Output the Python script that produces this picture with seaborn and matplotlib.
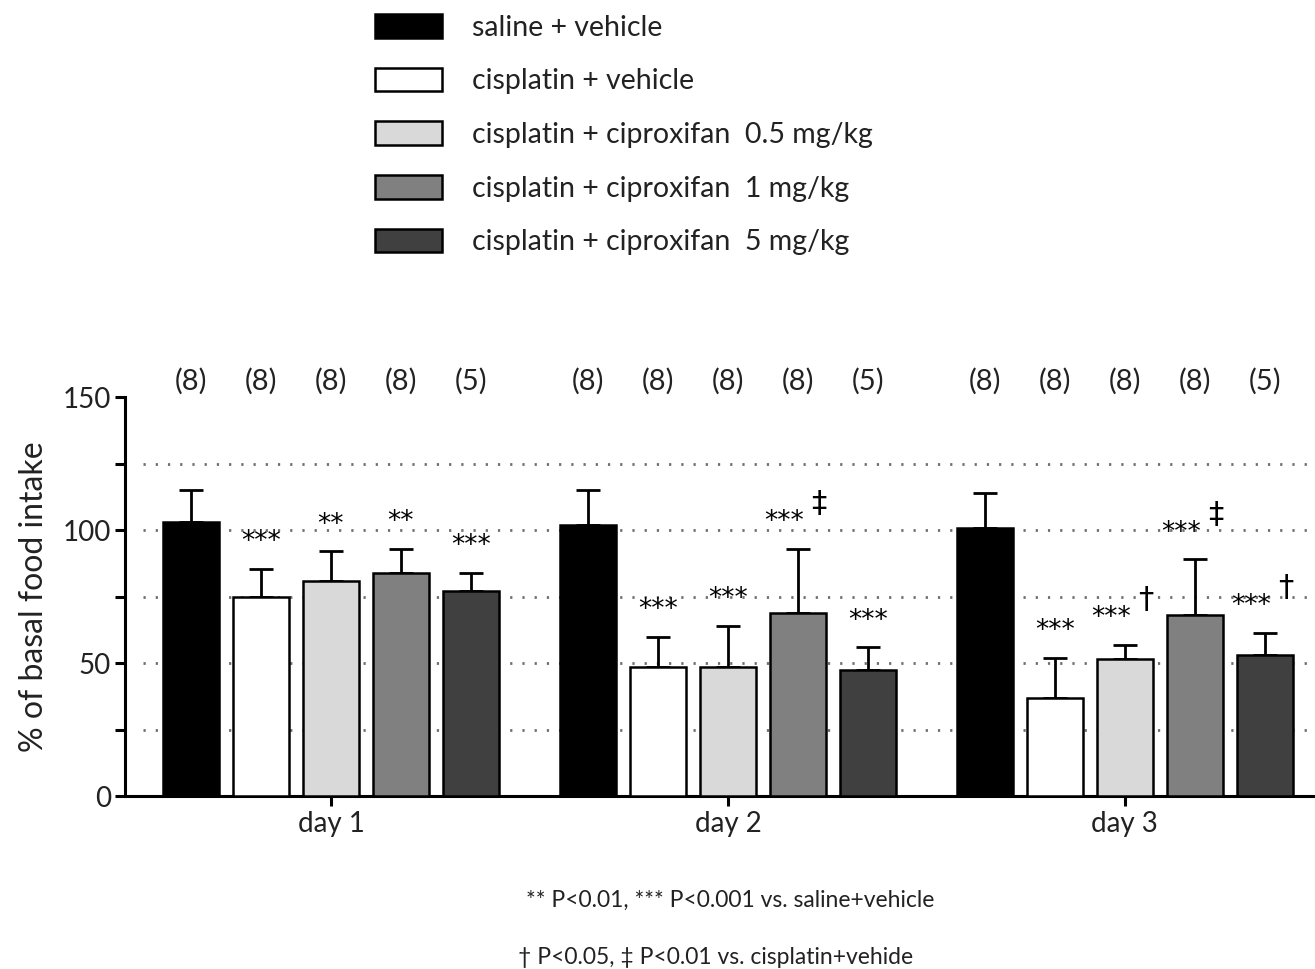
import pandas as pd
import seaborn as sns
import matplotlib.pyplot as plt
from matplotlib.ticker import MultipleLocator

# Data
days = ['day 1', 'day 2', 'day 3']
groups = ['saline + vehicle',
          'cisplatin + vehicle',
          'cisplatin + ciproxifan  0.5 mg/kg',
          'cisplatin + ciproxifan  1 mg/kg',
          'cisplatin + ciproxifan  5 mg/kg']
colors = ['#000000', '#ffffff', '#d9d9d9', '#808080', '#404040']
n_animals = ['(8)', '(8)', '(8)', '(8)', '(5)']

mean_day1 = [103, 75, 81, 84, 77]
mean_day2 = [102, 48.5, 48.5, 69, 47.5]
mean_day3 = [101, 37, 51.5, 68, 53]
sem_day1 = [12, 10.5, 11, 9, 7]
sem_day2 = [13, 11.5, 15.5, 24, 8.5]
sem_day3 = [13, 15, 5.5, 21, 8.5]

stars_day1 = ['', '***', '**', '**', '***']
stars_day2 = ['', '***', '***', '***', '***']
stars_day3 = ['', '***', '***', '***', '***']
dagger_day1 = ['', '', '', '', '']
dagger_day2 = ['', '', '', '\u2021', '']
dagger_day3 = ['', '', '\u2020', '\u2021', '\u2020']

means = [mean_day1, mean_day2, mean_day3]
sems = [sem_day1, sem_day2, sem_day3]
stars = [stars_day1, stars_day2, stars_day3]
daggers = [dagger_day1, dagger_day2, dagger_day3]

rows = []
for d, day in enumerate(days):
    for g, grp in enumerate(groups):
        rows.append({'day': day, 'group': grp, 'value': means[d][g]})
df = pd.DataFrame(rows)

txt = '#222222'
sns.set_style('ticks')
plt.rcParams['font.family'] = ['Lato', 'DejaVu Sans']
plt.rcParams['font.size'] = 20
plt.rcParams['text.color'] = txt
plt.rcParams['axes.labelcolor'] = txt

fig = plt.figure(figsize=(13.15, 9.69), dpi=100)
ax = fig.add_axes([0.095, 0.1785, 0.905, 0.4115])

sns.barplot(data=df, x='day', y='value', hue='group', palette=colors,
            width=0.88, gap=0.2, edgecolor='black', linewidth=1.8,
            errorbar=None, saturation=1, ax=ax, zorder=3)

handles, labels = ax.get_legend_handles_labels()
ax.get_legend().remove()

bar_groups = list(ax.containers)
for g, cont in enumerate(bar_groups):
    for d, bar in enumerate(cont):
        x = bar.get_x() + bar.get_width() / 2
        top = bar.get_height()
        err = sems[d][g]
        ax.errorbar(x, top, yerr=[[0], [err]], fmt='none', ecolor='black',
                    elinewidth=2, capsize=8.5, capthick=2, zorder=2)
        ax.text(x, 156, n_animals[g], ha='center', va='center',
                fontsize=21, clip_on=False)
        s = stars[d][g]
        dg = daggers[d][g]
        if s:
            ax.annotate(s, (x, top + err + 10), xytext=(-10 if dg else 0, 0),
                        textcoords='offset points', ha='center', va='center',
                        fontsize=19, family='DejaVu Sans', color='black')
        if dg:
            ax.annotate(dg, (x, top + err + 17), xytext=(15, 0),
                        textcoords='offset points', ha='center', va='center',
                        fontsize=22, family='DejaVu Sans', color='black')

# dotted reference lines
for yv in [25, 50, 75, 100, 125]:
    ax.axhline(yv, xmin=0.015, xmax=1, color='#6f6f6f', lw=2,
               linestyle=(0, (0.8, 3.6)), zorder=1)

ax.set_ylim(0, 150)
ax.set_xlim(-0.519, 2.479)
ax.yaxis.set_major_locator(MultipleLocator(50))
ax.yaxis.set_minor_locator(MultipleLocator(25))
ax.tick_params(axis='both', which='both', direction='out', length=7,
               width=2.2, labelsize=20, color='black', labelcolor=txt)
ax.tick_params(axis='y', pad=3)
for side in ['left', 'bottom']:
    ax.spines[side].set_linewidth(2.2)
    ax.spines[side].set_color('black')
sns.despine(ax=ax)
ax.set_xlabel('')
ax.set_ylabel('% of basal food intake', fontsize=23, labelpad=10)

for h in handles:
    h.set_edgecolor('black')
    h.set_linewidth(1.8)
fig.legend(handles, labels, loc='upper left',
           bbox_to_anchor=(375 / 1315, 1 - 14 / 969), frameon=False,
           fontsize=20.5, handlelength=2.35, handleheight=0.9,
           handletextpad=1.05, labelspacing=0.95, borderpad=0,
           borderaxespad=0)

fig.text(730 / 1315, 1 - 900 / 969,
         '** P<0.01, *** P<0.001 vs. saline+vehicle',
         ha='center', va='center', fontsize=16.5)
fig.text(716 / 1315, 1 - 957 / 969,
         '\u2020 P<0.05, \u2021 P<0.01 vs. cisplatin+vehide',
         ha='center', va='center', fontsize=16.5)

fig.savefig('out.png', dpi=100)
